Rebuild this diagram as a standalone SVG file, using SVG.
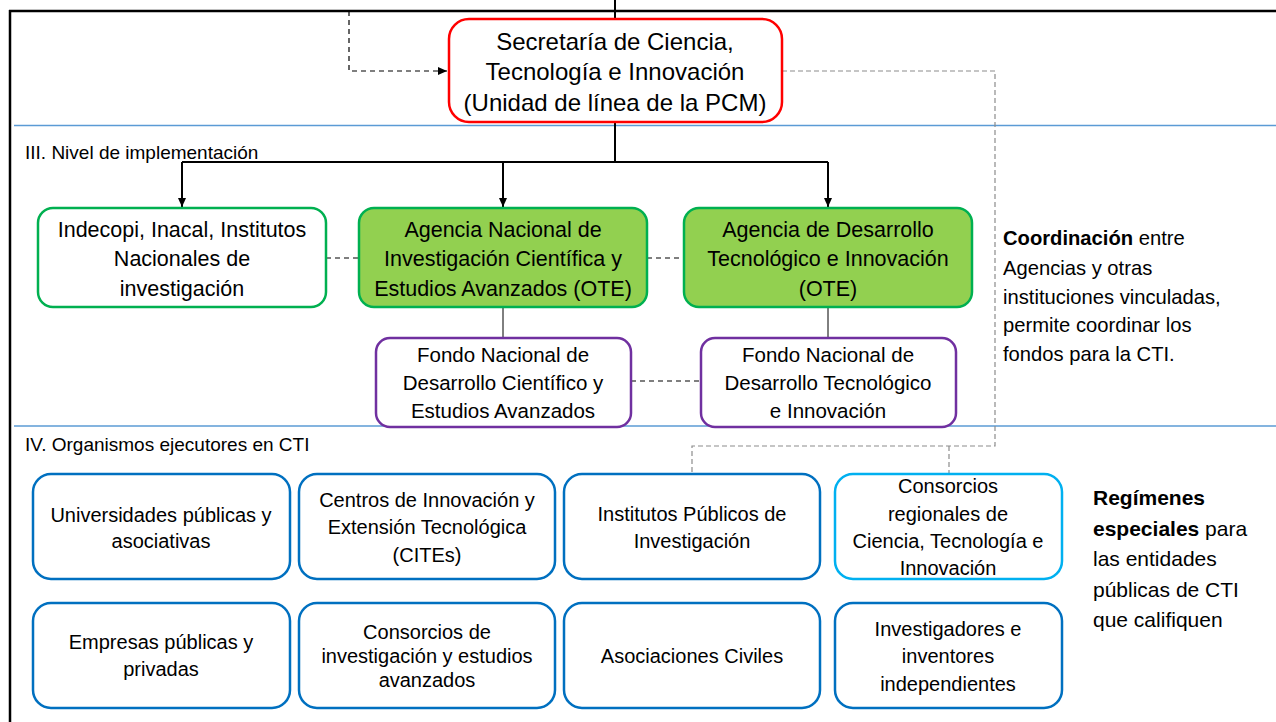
<svg xmlns="http://www.w3.org/2000/svg" width="1276" height="722" viewBox="0 0 1276 722">
<defs>
<style>
text{font-family:"Liberation Sans",Arial,sans-serif;fill:#000;text-anchor:middle}
.t1{font-size:24px}
.t2{font-size:21.5px}
.t3{font-size:20.5px}
.t4{font-size:20px}
.lab{font-size:19px;text-anchor:start}
.side{font-size:20.2px;text-anchor:start}
.side2{font-size:21px;text-anchor:start}
.b{font-weight:bold}
.red{fill:#fff;stroke:#ff0000;stroke-width:2.5}
.gw{fill:#fff;stroke:#00b050;stroke-width:2.5}
.gf{fill:#92d050;stroke:#00b050;stroke-width:2.5}
.pu{fill:#fff;stroke:#7030a0;stroke-width:2.5}
.bl{fill:#fff;stroke:#0070c0;stroke-width:2.5}
.lb{fill:#fff;stroke:#00b0f0;stroke-width:2.5}
.sep{stroke:#5b9bd5;stroke-width:1.5}
.solid{fill:none;stroke:#000;stroke-width:2}
.thin{fill:none;stroke:#000;stroke-width:1}
.dash{fill:none;stroke:#000;stroke-width:1.2;stroke-dasharray:5,4}
.gdash{fill:none;stroke:#8c8c8c;stroke-width:1.2;stroke-dasharray:5,3}
</style>
<marker id="ar" markerWidth="10" markerHeight="10" refX="9" refY="5" orient="auto" markerUnits="userSpaceOnUse">
<path d="M0,1 L9,5 L0,9 Z" fill="#000"/>
</marker>
</defs>
<rect width="1276" height="722" fill="#fff"/>
<g id="frame">
<line x1="9" y1="11" x2="1276" y2="11" stroke="#000" stroke-width="2.5"/>
<line x1="10" y1="10" x2="10" y2="722" stroke="#000" stroke-width="2.5"/>
<line class="sep" x1="14" y1="125.5" x2="1276" y2="125.5"/>
<line class="sep" x1="14" y1="426" x2="1276" y2="426"/>
<text class="lab" x="25" y="159">III. Nivel de implementación</text>
<text class="lab" x="25" y="451">IV. Organismos ejecutores en CTI</text>
</g>
<g id="connectors">
<line class="solid" x1="615" y1="0" x2="615" y2="19"/>
<path class="dash" d="M349,11 V71 H447" marker-end="url(#ar)"/>
<path class="solid" d="M615,122 V162"/>
<path class="solid" d="M182,162 H828"/>
<path class="solid" d="M182,162 V207" marker-end="url(#ar)"/>
<path class="solid" d="M503,162 V207" marker-end="url(#ar)"/>
<path class="solid" d="M828,162 V207" marker-end="url(#ar)"/>
<line class="dash" x1="326" y1="258" x2="359" y2="258"/>
<line class="dash" x1="647" y1="258" x2="684" y2="258"/>
<line class="thin" x1="503" y1="307" x2="503" y2="338"/>
<line class="thin" x1="828" y1="307" x2="828" y2="338"/>
<line class="dash" x1="631" y1="381" x2="701" y2="381"/>
<path class="gdash" d="M782,71 H995 V446 H692 V474"/>
<path class="gdash" d="M949,446 V474"/>
</g>
<g id="secretaria">
<rect class="red" x="449" y="19" width="333" height="103" rx="20"/>
<text class="t1" x="615" y="50">Secretaría de Ciencia,</text>
<text class="t1" x="615" y="80">Tecnología e Innovación</text>
<text class="t1" x="615" y="111">(Unidad de línea de la PCM)</text>
</g>
<g id="indecopi">
<rect class="gw" x="38" y="208" width="288" height="99" rx="15"/>
<text class="t2" x="182" y="237">Indecopi, Inacal, Institutos</text>
<text class="t2" x="182" y="266">Nacionales de</text>
<text class="t2" x="182" y="296">investigación</text>
</g>
<g id="agencia-nacional">
<rect class="gf" x="359" y="208" width="288" height="99" rx="15"/>
<text class="t2" x="503" y="237">Agencia Nacional de</text>
<text class="t2" x="503" y="266">Investigación Científica y</text>
<text class="t2" x="503" y="296">Estudios Avanzados (OTE)</text>
</g>
<g id="agencia-desarrollo">
<rect class="gf" x="684" y="208" width="288" height="99" rx="15"/>
<text class="t2" x="828" y="237">Agencia de Desarrollo</text>
<text class="t2" x="828" y="266">Tecnológico e Innovación</text>
<text class="t2" x="828" y="296">(OTE)</text>
</g>
<g id="fondo-cientifico">
<rect class="pu" x="376" y="338" width="255" height="89" rx="14"/>
<text class="t3" x="503" y="362">Fondo Nacional de</text>
<text class="t3" x="503" y="390">Desarrollo Científico y</text>
<text class="t3" x="503" y="418">Estudios Avanzados</text>
</g>
<g id="fondo-tecnologico">
<rect class="pu" x="701" y="338" width="255" height="89" rx="14"/>
<text class="t3" x="828" y="362">Fondo Nacional de</text>
<text class="t3" x="828" y="390">Desarrollo Tecnológico</text>
<text class="t3" x="828" y="418">e Innovación</text>
</g>
<g id="coordinacion">
<text class="side" x="1003" y="245"><tspan class="b">Coordinación</tspan> entre</text>
<text class="side" x="1003" y="275">Agencias y otras</text>
<text class="side" x="1003" y="304">instituciones vinculadas,</text>
<text class="side" x="1003" y="332">permite coordinar los</text>
<text class="side" x="1003" y="361">fondos para la CTI.</text>
</g>
<g id="universidades">
<rect class="bl" x="33" y="474" width="257" height="105" rx="18"/>
<text class="t4" x="161" y="522">Universidades públicas y</text>
<text class="t4" x="161" y="548">asociativas</text>
</g>
<g id="cites">
<rect class="bl" x="299" y="474" width="256" height="105" rx="18"/>
<text class="t4" x="427" y="507">Centros de Innovación y</text>
<text class="t4" x="427" y="534">Extensión Tecnológica</text>
<text class="t4" x="427" y="562">(CITEs)</text>
</g>
<g id="institutos">
<rect class="bl" x="564" y="474" width="256" height="105" rx="18"/>
<text class="t4" x="692" y="521">Institutos Públicos de</text>
<text class="t4" x="692" y="548">Investigación</text>
</g>
<g id="consorcios-regionales">
<rect class="lb" x="835" y="474" width="227" height="105" rx="18"/>
<text class="t4" x="948" y="493">Consorcios</text>
<text class="t4" x="948" y="521">regionales de</text>
<text class="t4" x="948" y="548">Ciencia, Tecnología e</text>
<text class="t4" x="948" y="575">Innovación</text>
</g>
<g id="empresas">
<rect class="bl" x="33" y="603" width="257" height="105" rx="18"/>
<text class="t4" x="161" y="649">Empresas públicas y</text>
<text class="t4" x="161" y="676">privadas</text>
</g>
<g id="consorcios-investigacion">
<rect class="bl" x="299" y="603" width="256" height="105" rx="18"/>
<text class="t4" x="427" y="639">Consorcios de</text>
<text class="t4" x="427" y="663">investigación y estudios</text>
<text class="t4" x="427" y="687">avanzados</text>
</g>
<g id="asociaciones">
<rect class="bl" x="564" y="603" width="256" height="105" rx="18"/>
<text class="t4" x="692" y="663">Asociaciones Civiles</text>
</g>
<g id="investigadores">
<rect class="bl" x="835" y="603" width="227" height="105" rx="18"/>
<text class="t4" x="948" y="636">Investigadores e</text>
<text class="t4" x="948" y="663">inventores</text>
<text class="t4" x="948" y="691">independientes</text>
</g>
<g id="regimenes">
<text class="side2" x="1093" y="505"><tspan class="b">Regímenes</tspan></text>
<text class="side2" x="1093" y="536"><tspan class="b">especiales</tspan> para</text>
<text class="side2" x="1093" y="566">las entidades</text>
<text class="side2" x="1093" y="597">públicas de CTI</text>
<text class="side2" x="1093" y="627">que califiquen</text>
</g>
</svg>
